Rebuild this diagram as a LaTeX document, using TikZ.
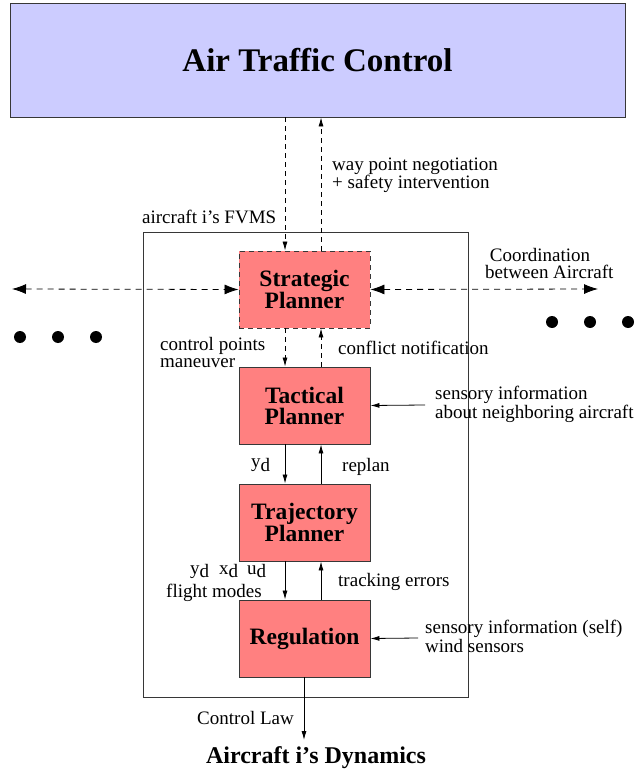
\documentclass[tikz,border=0pt]{standalone}
\usepackage{fontspec}
\setmainfont{Liberation Serif}
\usetikzlibrary{arrows.meta}
\definecolor{atcblue}{RGB}{204,204,255}
\definecolor{boxred}{RGB}{255,128,128}
\definecolor{edgec}{RGB}{55,55,55}
\begin{document}
\begin{tikzpicture}[x=1pt,y=-1pt,
  blk/.style={draw=edgec, fill=boxred, line width=0.9pt, minimum width=131pt, minimum height=77pt,
    font=\fontsize{23.5}{21}\selectfont\bfseries, align=center, inner sep=0pt},
  lbl/.style={font=\fontsize{19}{17}\selectfont, align=left, inner sep=0pt},
  ar/.style={-{Latex[length=9pt,width=5pt]}, line width=0.8pt},
  dsh/.style={dash pattern=on 5pt off 4pt},
  bigar/.style={{Latex[length=14pt,width=10pt]}-{Latex[length=14pt,width=10pt]}, dash pattern=on 6pt off 5pt, line width=0.8pt}]
\useasboundingbox (0,0) rectangle (635,775);

% guide coordinates
\coordinate (xl) at (285,0);
\coordinate (xr) at (321,0);
\coordinate (farL) at (12,289);
\coordinate (farR) at (598,289);
\coordinate (sens1) at (425,405);
\coordinate (sens2) at (418,638);
\coordinate (out) at (304,740);

% boxes
\node[draw=edgec, fill=atcblue, line width=0.9pt, minimum width=615pt, minimum height=114pt, inner sep=0pt,
  font=\fontsize{33}{33}\selectfont\bfseries] (atc) at (317.5,60) {Air Traffic Control};
\node[draw=edgec, line width=0.9pt, minimum width=325pt, minimum height=465pt, inner sep=0pt] (fvms) at (305.5,464.5) {};
\node[blk, dsh] (strat) at (304.5,289.5) {Strategic\\Planner};
\node[blk] (tact) at (304.5,405.5) {Tactical\\Planner};
\node[blk] (traj) at (304.5,522.5) {Trajectory\\Planner};
\node[blk] (reg) at (304.5,638.5) {Regulation};
\node[font=\fontsize{24}{20}\selectfont\bfseries, inner sep=0pt] (dyn) at (316,758) {Aircraft i's Dynamics};

% dots
\foreach \i/\x/\y in {1/20/337,2/58/337,3/96/337,4/552/322,5/590/322,6/628/322}
  \fill (\x,\y) circle (6pt) coordinate (dot\i);

% ATC <-> strategic
\draw[ar, dsh] (atc.south -| xl) -- (strat.north -| xl);
\draw[ar, dsh] (strat.north -| xr) -- (atc.south -| xr);
% coordination
\draw[bigar] (farL) -- (strat.west);
\draw[bigar] (strat.east) -- (farR);
% strategic <-> tactical
\draw[ar, dsh] (strat.south -| xl) -- (tact.north -| xl);
\draw[ar, dsh] (tact.north -| xr) -- (strat.south -| xr);
% tactical <-> trajectory
\draw[ar] (tact.south -| xl) -- (traj.north -| xl);
\draw[ar] (traj.north -| xr) -- (tact.south -| xr);
% trajectory <-> regulation
\draw[ar] (traj.south -| xl) -- (reg.north -| xl);
\draw[ar] (reg.north -| xr) -- (traj.south -| xr);
% sensors
\draw[ar] (sens1) -- (tact.east);
\draw[ar] (sens2) -- (reg.east);
% output
\draw[ar] (reg.south -| out) -- (out);

% labels (anchor = baseline of last line)
\node[lbl, anchor=base west] (l1) at (332,189) {way point negotiation\\+ safety intervention};
\node[lbl, anchor=base west] (l2) at (142,224) {aircraft i's FVMS};
\node[lbl, anchor=base west] (l3) at (485,278) {\ Coordination\\between Aircraft};
\node[lbl, anchor=base west] (l4) at (160,367) {control points\\maneuver};
\node[lbl, anchor=base west] (l5) at (338,354) {conflict notification};
\node[lbl, anchor=base west] (l6) at (435,418) {sensory information\\about neighboring aircraft};
\node[lbl, anchor=base west] (l7) at (251,467) {y\raisebox{-4pt}{d}};
\node[lbl, anchor=base west] (l8) at (342,471) {replan};
\node[lbl, anchor=base west, font=\fontsize{19}{15}\selectfont] (l9a) at (190,574) {y\raisebox{-3pt}{d}\hspace{10pt}x\raisebox{-3pt}{d}\hspace{9pt}u\raisebox{-3pt}{d}};
\node[lbl, anchor=base west] (l9) at (166,597) {flight modes};
\node[lbl, anchor=base west] (l10) at (338,586) {tracking errors};
\node[lbl, anchor=base west, font=\fontsize{19}{15}\selectfont] (l11) at (425,652) {sensory information (self)\\wind sensors};
\node[lbl, anchor=base east] (l12) at (294,724) {Control Law};
\end{tikzpicture}
\end{document}
